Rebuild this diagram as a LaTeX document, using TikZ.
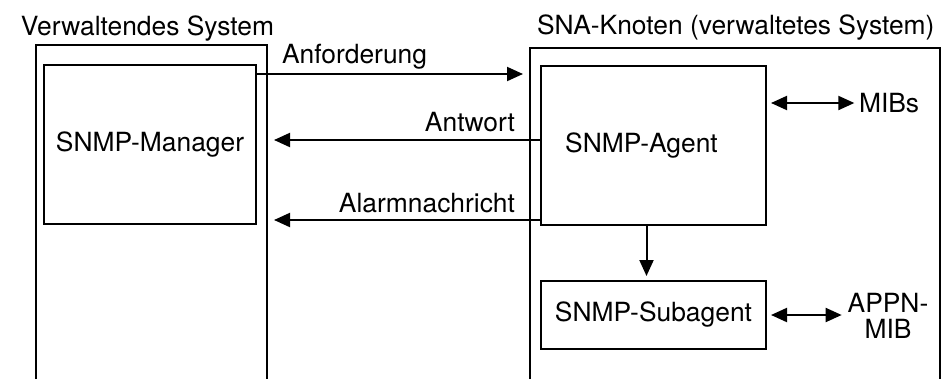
\documentclass[tikz,border=0pt]{standalone}
\usepackage{fontspec}
\setmainfont{TeX Gyre Heros}
\usetikzlibrary{arrows.meta}

\tikzset{every picture/.style={line width=1.5pt}}
\tikzset{
  blockbox/.style={draw, minimum width=168.75pt, inner sep=0.75pt},
  msgarrow/.style={-{Triangle[length=12pt,width=10.5pt]}},
  dblarrow/.style={{Triangle[length=12pt,width=10.5pt]}-{Triangle[length=12pt,width=10.5pt]}}
}

\begin{document}
\begin{tikzpicture}[x=0.75pt,y=0.75pt,yscale=-1,xscale=1,font=\fontsize{19.8}{23}\selectfont]
\useasboundingbox (0,0) rectangle (942,379);

%Shape: open frame, managing side
\draw (36,379) -- (36,45) -- (267,45) -- (267,379) ;
%Shape: open frame, managed side
\draw (530,379) -- (530,48) -- (940,48) -- (940,379) ;

% Boxes
\draw (150,144.5) node [blockbox, minimum width=159pt, minimum height=119.25pt] (manager) {SNMP-Manager};
\draw (653.5,145.5) node [blockbox, minimum height=119.25pt] (agent) {SNMP-Agent\hspace*{18pt}};
\draw (653.5,315) node [blockbox, minimum height=51pt] (subagent) {SNMP-Subagent};

% Text Node
\draw (857,103) node [anchor=west, inner sep=0.75pt] (mibs) {MIBs};
% Text Node
\draw (888,316) node [align=center, inner sep=0.75pt, font=\fontsize{19.8}{19.5}\selectfont] (appnmib) {APPN-\\MIB};

% free arrow ends
\coordinate (anfEnd) at (523,74);
\coordinate (antEnd) at (274,140);
\coordinate (alaEnd) at (274,220);

%Straight Lines
\draw [msgarrow] (manager.east |- anfEnd) -- (anfEnd) ;
\draw [msgarrow] (agent.west |- antEnd) -- (antEnd) ;
\draw [msgarrow] (agent.west |- alaEnd) -- (alaEnd) ;
\draw [msgarrow, shorten >=3pt] ([xshift=-5.25pt]agent.south) -- ([xshift=-5.25pt]subagent.north) ;
\draw [dblarrow, shorten >=2pt] ([xshift=3pt]agent.east |- mibs.west) -- (mibs.west) ;
\draw [dblarrow, shorten >=3pt] ([xshift=3pt]subagent.east) -- (subagent.east -| appnmib.west) ;

% Text Node
\draw (19,35) node [anchor=base west, inner sep=0.75pt] (titleLeft) {Verwaltendes System};
% Text Node
\draw (535,34) node [anchor=base west, inner sep=0.75pt] (titleRight) {SNA-Knoten (verwaltetes System)};
% Text Node
\draw (280,63) node [anchor=base west, inner sep=0.75pt] (lblAnf) {Anforderung};
% Text Node
\draw (517,131) node [anchor=base east, inner sep=0.75pt] (lblAnt) {Antwort};
% Text Node
\draw (517,212) node [anchor=base east, inner sep=0.75pt] (lblAla) {Alarmnachricht};

\end{tikzpicture}
\end{document}
